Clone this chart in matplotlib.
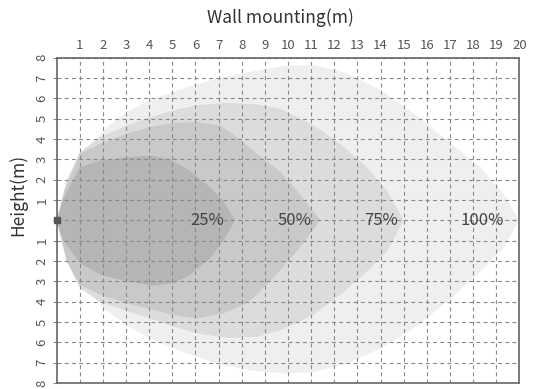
import matplotlib
matplotlib.use("Agg")
import matplotlib.pyplot as plt

plt.rcParams['font.family'] = ['Noto Sans CJK SC', 'DejaVu Sans']
plt.rcParams['font.weight'] = 'light'

# Coverage outlines (x = distance in m, y = height in m)
s100_x = [0, 0.29, 0.72, 1.3, 2.02, 3.03, 4.04, 5.48, 6.93, 8.37, 9.8, 11.1, 12.55, 14.0, 15.44, 16.88, 18.32, 19.33, 19.98,
          19.33, 18.32, 16.88, 15.44, 14.0, 12.55, 11.1, 9.8, 8.37, 6.93, 5.48, 4.04, 3.03, 2.02, 1.3, 0.72, 0.29]
s100_y = [0, 1.12, 2.28, 3.43, 4.42, 5.33, 5.91, 6.49, 6.98, 7.31, 7.59, 7.64, 7.23, 6.4, 5.25, 3.93, 2.61, 1.29, 0,
          -1.35, -2.51, -4.0, -5.31, -6.3, -7.05, -7.46, -7.54, -7.38, -7.05, -6.47, -5.81, -5.15, -4.32, -3.33, -2.18, -1.02]

s75_x = [0, 0.43, 1.0, 1.87, 3.03, 4.04, 5.05, 6.06, 7.36, 8.66, 9.67, 11.1, 12.26, 13.42, 14.29, 15.0,
         14.29, 13.27, 12.26, 11.1, 9.67, 8.66, 7.36, 6.06, 5.05, 4.04, 3.03, 1.87, 1.0, 0.43]
s75_y = [0, 1.95, 3.35, 4.09, 4.67, 5.08, 5.41, 5.66, 5.78, 5.7, 5.5, 4.67, 3.76, 2.61, 1.45, 0,
         -1.52, -2.67, -3.66, -4.65, -5.4, -5.73, -5.78, -5.56, -5.23, -4.82, -4.46, -4.0, -3.33, -2.0]

s50_x = [0, 0.35, 1.0, 1.87, 3.03, 4.04, 5.05, 6.06, 7.07, 7.79, 8.66, 9.67, 10.5, 11.4,
         10.5, 9.67, 8.66, 8.08, 7.21, 6.06, 5.05, 4.04, 3.03, 1.87, 1.0, 0.43]
s50_y = [0, 1.5, 3.27, 3.76, 4.26, 4.59, 4.79, 4.84, 4.67, 4.1, 3.27, 2.4, 1.29, 0,
         -1.35, -2.45, -3.66, -4.16, -4.57, -4.82, -4.65, -4.36, -4.07, -3.66, -3.17, -2.0]

s25_x = [0, 0.3, 1.0, 1.87, 3.03, 4.04, 4.9, 5.77, 6.64, 7.2, 7.72,
         7.2, 6.64, 5.77, 5.05, 4.04, 3.03, 1.87, 1.0, 0.29]
s25_y = [0, 1.1, 2.6, 2.94, 3.1, 3.18, 3.0, 2.44, 1.62, 0.96, 0,
         -1.0, -1.85, -2.67, -3.1, -3.2, -3.0, -2.67, -2.1, -1.0]

labels = ['25%', '50%', '75%', '100%']
label_x = [6.5, 10.3, 14.0, 18.4]

x_ticks = list(range(1, 21))
y_ticks = list(range(-8, 9))
y_tick_labels = [str(abs(v)) if v != 0 else '' for v in y_ticks]

fig = plt.figure(figsize=(5.34, 3.89), dpi=100)
ax = fig.add_axes([0.1062, 0.0154, 0.9725 - 0.1062, 0.8517 - 0.0154])

shapes = [(s100_x, s100_y, '#efeff0'), (s75_x, s75_y, '#dcdcdc'),
          (s50_x, s50_y, '#c9c9c9'), (s25_x, s25_y, '#b5b5b6')]
for sx, sy, c in shapes:
    ax.fill(sx, sy, color=c, lw=0, zorder=1)

for t, lx in zip(labels, label_x):
    ax.text(lx, 0, t, ha='center', va='center', fontsize=12, color='#444444',
            fontweight='light', zorder=4)

ax.set_xlim(0, 20)
ax.set_ylim(-8, 8)
ax.set_xticks(x_ticks)
ax.set_yticks(y_ticks)
ax.set_yticklabels(y_tick_labels, rotation=90, va='center')
ax.xaxis.tick_top()
ax.tick_params(axis='x', length=0, pad=4, labelsize=9.5, labelcolor='#555555')
ax.tick_params(axis='y', length=3, width=0.8, color='#888888', pad=3, labelsize=9.5, labelcolor='#555555')
ax.grid(True, color='#888888', linestyle=(0, (3.5, 3)), linewidth=0.8, zorder=2)
ax.set_axisbelow(False)
for sp in ax.spines.values():
    sp.set_color('#666666')
    sp.set_linewidth(1.2)
    sp.set_zorder(5)

ax.plot([0], [0], marker='s', markersize=4, color='#555555', clip_on=False, zorder=6)

fig.text(0.526, 0.955, 'Wall mounting(m)', ha='center', va='center', fontsize=12.5,
         color='#333333', fontweight='light')
fig.text(0.034, 0.5, 'Height(m)', ha='center', va='center', rotation=90, fontsize=12.5,
         color='#333333', fontweight='light')

fig.savefig('out.png', dpi=100)
